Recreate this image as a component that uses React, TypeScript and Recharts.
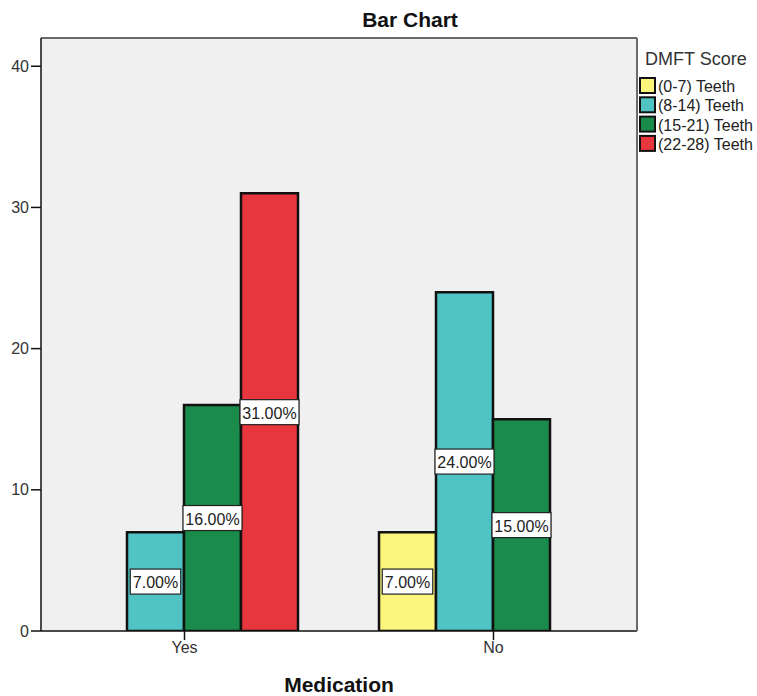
import React from 'react';
import { BarChart, Bar, XAxis, YAxis, CartesianGrid } from 'recharts';

const categories = ['Yes', 'No'];
const seriesNames = ['(0-7) Teeth', '(8-14) Teeth', '(15-21) Teeth', '(22-28) Teeth'];
const teeth0to7: (number | null)[] = [null, 7];
const teeth8to14: (number | null)[] = [7, 24];
const teeth15to21: (number | null)[] = [16, 15];
const teeth22to28: (number | null)[] = [31, null];
const yTicks = [0, 10, 20, 30, 40];
const seriesColors = ['#fbf57b', '#50c4c4', '#1b8b4b', '#e8363f'];

const seriesValues = [teeth0to7, teeth8to14, teeth15to21, teeth22to28];
const data = categories.map((c, i) => {
  const row: Record<string, any> = { category: c };
  seriesValues.forEach((arr, k) => {
    row['s' + k] = arr[i];
  });
  return row;
});

const FONT = '"Liberation Sans", Arial, sans-serif';

const renderLabel = (props: any) => {
  const vb = props.viewBox || {};
  const x = props.x ?? vb.x;
  const y = props.y ?? vb.y;
  const width = props.width ?? vb.width;
  const height = props.height ?? vb.height;
  const value = props.value;
  if (value === null || value === undefined || !height) return null;
  const text = `${Number(value).toFixed(2)}%`;
  const w = text.length * 8.5 + 8;
  const h = 25;
  const cx = x + width / 2;
  const cy = y + height / 2;
  return (
    <g>
      <rect x={cx - w / 2} y={cy - h / 2} width={w} height={h} fill="#ffffff" stroke="#222" strokeWidth={1.2} />
      <text x={cx} y={cy + 1} textAnchor="middle" dominantBaseline="central" fontSize={16} fontFamily={FONT} fill="#222">
        {text}
      </text>
    </g>
  );
};

export default function App() {
  return (
    <div style={{ position: 'absolute', left: 0, top: 0, width: 757, height: 696, background: '#fff' }}>
      <BarChart
        width={757}
        height={696}
        data={data}
        margin={{ top: 37, right: 119, bottom: 35, left: 0 }}
        barCategoryGap={40}
        barGap={0}
      >
        <CartesianGrid horizontal={false} vertical={false} fill="#f0f0f0" />
        <XAxis
          dataKey="category"
          padding={{ left: -11, right: -11 }}
          height={30}
          tickSize={9}
          tickMargin={2}
          axisLine={{ stroke: '#111', strokeWidth: 1.5 }}
          tickLine={{ stroke: '#111', strokeWidth: 1.5 }}
          tick={{ fontSize: 16, fontFamily: FONT, fill: '#333' }}
          interval={0}
        />
        <XAxis
          xAxisId="top"
          dataKey="category"
          orientation="top"
          height={1}
          tick={false}
          tickLine={false}
          axisLine={{ stroke: '#6a6a6a', strokeWidth: 2 }}
        />
        <YAxis
          domain={[0, 42]}
          ticks={yTicks}
          width={41}
          tickSize={10}
          tickMargin={2}
          allowDataOverflow
          axisLine={{ stroke: '#111', strokeWidth: 1.5 }}
          tickLine={{ stroke: '#111', strokeWidth: 1.5 }}
          tick={{ fontSize: 16, fontFamily: FONT, fill: '#333' }}
        />
        <YAxis
          yAxisId="right"
          orientation="right"
          width={1}
          domain={[0, 42]}
          tick={false}
          tickLine={false}
          axisLine={{ stroke: '#6a6a6a', strokeWidth: 2 }}
        />
        {seriesNames.map((name, k) => (
          <Bar
            key={name}
            dataKey={'s' + k}
            name={name}
            fill={seriesColors[k]}
            stroke="#111"
            strokeWidth={2.5}
            isAnimationActive={false}
            label={renderLabel}
          />
        ))}
      </BarChart>
      <svg
        width={757}
        height={696}
        style={{ position: 'absolute', left: 0, top: 0, pointerEvents: 'none' }}
      >
        <text x={410} y={27} textAnchor="middle" fontSize={21} fontWeight="bold" fontFamily={FONT} fill="#111">
          Bar Chart
        </text>
        <text x={339} y={692} textAnchor="middle" fontSize={21} fontWeight="bold" fontFamily={FONT} fill="#111">
          Medication
        </text>
        <text x={645} y={65} fontSize={18} fontFamily={FONT} fill="#333">
          DMFT Score
        </text>
        {seriesNames.map((name, k) => (
          <g key={name}>
            <rect x={640} y={78 + k * 19.3} width={15} height={15} fill={seriesColors[k]} stroke="#111" strokeWidth={2} />
            <text x={658} y={92 + k * 19.3} fontSize={16} fontFamily={FONT} fill="#222">
              {name}
            </text>
          </g>
        ))}
      </svg>
    </div>
  );
}
